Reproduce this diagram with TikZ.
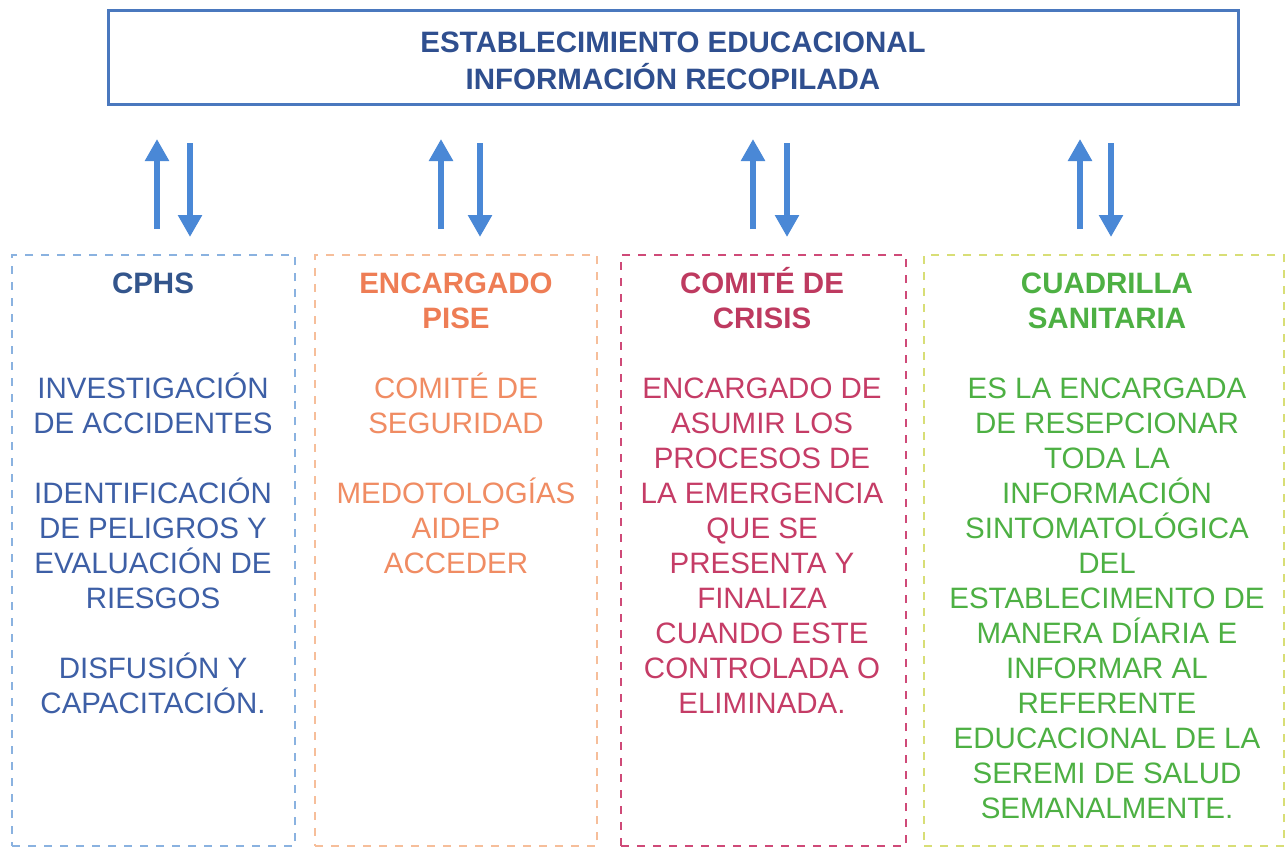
\documentclass[tikz,border=0pt]{standalone}
\usepackage{fontspec}
\setmainfont{Liberation Sans}
\usetikzlibrary{arrows.meta}
\definecolor{topborder}{HTML}{4A78BE}
\definecolor{titlecol}{HTML}{2F4F8F}
\definecolor{arrowcol}{HTML}{4A88D6}
\definecolor{bAborder}{HTML}{8AB2E0}
\definecolor{bAhead}{HTML}{33558C}
\definecolor{bAbody}{HTML}{3D5FA6}
\definecolor{bBborder}{HTML}{F6BE9A}
\definecolor{bBhead}{HTML}{EE7D55}
\definecolor{bBbody}{HTML}{F08C63}
\definecolor{bCborder}{HTML}{CF4A78}
\definecolor{bChead}{HTML}{BE3A60}
\definecolor{bCbody}{HTML}{C53C66}
\definecolor{bDborder}{HTML}{D8DE76}
\definecolor{bDtext}{HTML}{4DB043}
\tikzset{
  topbox/.style={draw=topborder, line width=3pt, inner sep=0pt, minimum width=1130pt, minimum height=94pt},
  titletext/.style={anchor=north, align=center, inner sep=0pt, text=titlecol, font=\bfseries\fontsize{29.5}{37}\selectfont},
  dbox/.style={line width=1.8pt, dash pattern=on 8pt off 8pt, inner sep=0pt, minimum height=591pt},
  boxtext/.style={anchor=north, align=center, inner sep=0pt, font=\fontsize{29.5}{35}\selectfont},
  arr/.style={draw=arrowcol, line width=6pt, -{Triangle[width=23pt,length=22pt]}}
}
\newcommand{\hd}[2]{{\color{#1}\bfseries #2}}
\newcommand{\fs}{\rule{0pt}{30pt}}
\begin{document}
\begin{tikzpicture}[x=1pt,y=-1pt]
\useasboundingbox (0,0) rectangle (1287,849);
\fill[white] (0,0) rectangle (1287,849);

\node[topbox] (top) at (673,57) {};
\node[titletext] (title) at (673,22.5) {\fs ESTABLECIMIENTO EDUCACIONAL\\INFORMACIÓN RECOPILADA};

% boxes
\node[dbox, draw=bAborder, minimum width=283pt] (b1) at (153.5,550.5) {};
\node[dbox, draw=bBborder, minimum width=282pt] (b2) at (456,550.5) {};
\node[dbox, draw=bCborder, minimum width=285pt] (b3) at (763.5,550.5) {};
\node[dbox, draw=bDborder, minimum width=360pt] (b4) at (1104,550.5) {};

% texts
\node[boxtext, text=bAbody] (t1) at (153,263) {\fs\hd{bAhead}{CPHS}\\[70pt]
INVESTIGACIÓN\\DE ACCIDENTES\\[35pt]
IDENTIFICACIÓN\\DE PELIGROS Y\\EVALUACIÓN DE\\RIESGOS\\[35pt]
DISFUSIÓN Y\\CAPACITACIÓN.};
\node[boxtext, text=bBbody] (t2) at (456,263) {\fs\hd{bBhead}{ENCARGADO}\\\hd{bBhead}{PISE}\\[35pt]
COMITÉ DE\\SEGURIDAD\\[35pt]
MEDOTOLOGÍAS\\AIDEP\\ACCEDER};
\node[boxtext, text=bCbody] (t3) at (762,263) {\fs\hd{bChead}{COMITÉ DE}\\\hd{bChead}{CRISIS}\\[35pt]
ENCARGADO DE\\ASUMIR LOS\\PROCESOS DE\\LA EMERGENCIA\\QUE SE\\PRESENTA Y\\FINALIZA\\CUANDO ESTE\\CONTROLADA O\\ELIMINADA.};
\node[boxtext, text=bDtext] (t4) at (1107,263) {\fs\hd{bDtext}{CUADRILLA}\\\hd{bDtext}{SANITARIA}\\[35pt]
ES LA ENCARGADA\\DE RESEPCIONAR\\TODA LA\\INFORMACIÓN\\SINTOMATOLÓGICA\\DEL\\ESTABLECIMENTO DE\\MANERA DÍARIA E\\INFORMAR AL\\REFERENTE\\EDUCACIONAL DE LA\\SEREMI DE SALUD\\SEMANALMENTE.};

% arrows
\foreach \i/\xu/\xd in {1/157/190, 2/441/480, 3/753/787, 4/1080/1111}{
  \coordinate (u\i s) at (\xu,229);
  \coordinate (u\i e) at (\xu,139);
  \coordinate (d\i s) at (\xd,143);
  \coordinate (d\i e) at (\xd,237);
  \draw[arr] (u\i s) -- (u\i e);
  \draw[arr] (d\i s) -- (d\i e);
}
\end{tikzpicture}
\end{document}
